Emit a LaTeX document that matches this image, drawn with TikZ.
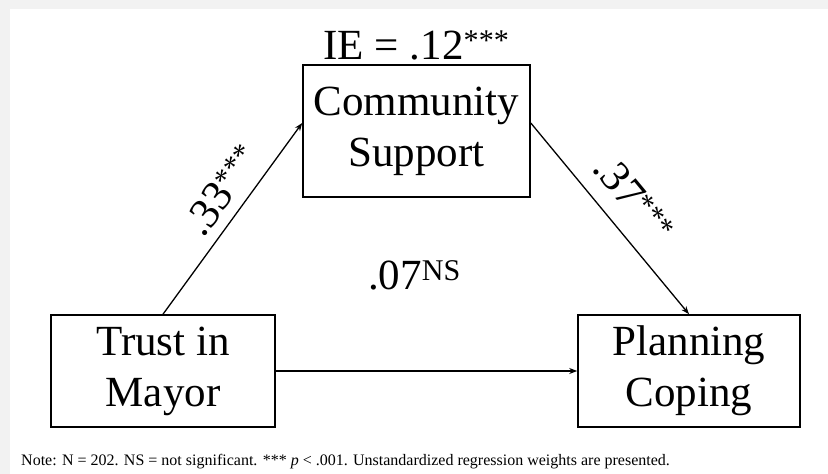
\documentclass[tikz,border=0pt]{standalone}
\usepackage{fontspec}
\setmainfont{Liberation Serif}
\usetikzlibrary{positioning,calc,arrows.meta}

\begin{document}
\begin{tikzpicture}[x=1pt, y=-1pt,
    var/.style={draw, line width=1.6pt, minimum width=224pt, minimum height=112pt,
      align=center, inner sep=0pt, font=\fontsize{43}{51}\selectfont},
    effect/.style={line width=1.3pt, -{Stealth[length=8pt,width=6pt]}},
    coef/.style={font=\fontsize{43}{51}\selectfont, inner sep=0pt}]
  \useasboundingbox (0,0) rectangle (828,474);
  % slide background
  \fill[gray!10] (0,0) rectangle (828,474);
  \fill[white] (10,9) rectangle (828,474);
  % variables
  \node[var] (trust) at (163,371) {Trust in\\Mayor};
  \node[var, minimum width=222pt] (coping) at (689,371) {Planning\\Coping};
  \node[var, minimum width=227pt, minimum height=132pt] (support) at (416.5,131) {Community\\Support};
  \node[coef, above=4pt of support] (ie) {IE = .12\textsuperscript{***}};
  % paths
  \draw[effect] (trust.north) -- ($(support.west)+(0,-8)$)
    node[coef, pos=0.57, sloped, above=10pt] (a) {.33\textsuperscript{***}};
  \draw[effect] ($(support.east)+(0,-8)$) -- (coping.north)
    node[coef, pos=0.5, sloped, above=16pt] (b) {.37\textsuperscript{***}};
  \draw[effect] (trust.east) -- (coping.west)
    node[coef, pos=0.46, above=80pt] (c) {.07\textsuperscript{NS}};
  % note
  \node[anchor=base west, inner sep=0pt, font=\fontsize{16}{19}\selectfont] (note) at (21,465)
    {Note: N = 202. NS = not significant. *** \textit{p} < .001. Unstandardized regression weights are presented.};
\end{tikzpicture}
\end{document}
